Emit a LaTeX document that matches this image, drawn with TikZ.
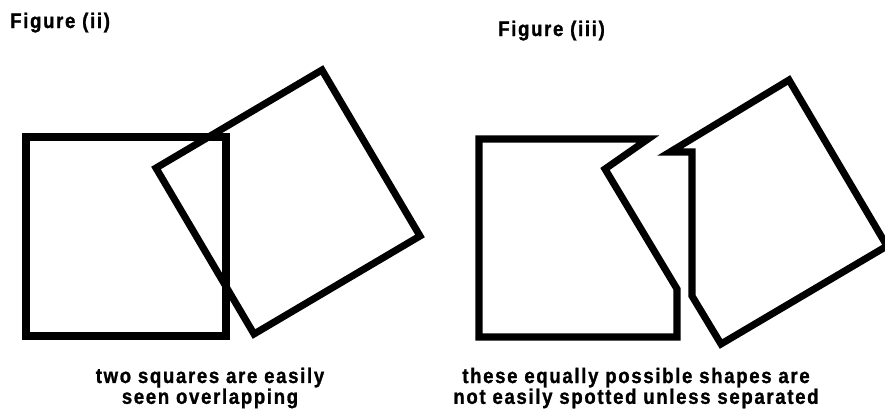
\documentclass[tikz,border=0pt]{standalone}
\usepackage{fontspec}
\setmainfont{Liberation Sans}
\newfontfamily\figfont[LetterSpace=8, FakeStretch=0.88, FakeBold=1.2]{Liberation Sans}
\usetikzlibrary{calc}
\tikzset{
  outline/.style={draw=black, line width=6pt, line join=miter},
  figtitle/.style={font=\figfont\bfseries\fontsize{18}{15}\selectfont, anchor=base west, inner sep=0pt},
  caption/.style={font=\figfont\bfseries\fontsize{18}{15}\selectfont, align=center, inner sep=0pt},
}

\begin{document}
\begin{tikzpicture}[x=0.03cm, y=-0.03cm]
\useasboundingbox (0,0) rectangle (885,412);

% Figure (ii): plain square and tilted square
\coordinate (sqa) at (26,137);
\coordinate (sqb) at (226,336);
\draw[outline] (sqa) rectangle (sqb);
\coordinate (tl) at (156,168);
\coordinate (tt) at (322,70);
\coordinate (tr) at (420,236);
\coordinate (tb) at (254,334);
\draw[outline] (tl) -- (tt) -- (tr) -- (tb) -- cycle;

% Figure (iii): the two cut shapes
\draw[outline] (479,139) -- (648,139) -- (605,169) -- (677,289)
  -- (677,337) -- (479,337) -- cycle;
\draw[outline] (670,152) -- (692,152) -- (692,296) -- (721,344)
  -- (887,246) -- (789,80) -- cycle;

% titles and captions
\node[figtitle] (titleii) at (10,28) {Figure (ii)};
\node[figtitle] (titleiii) at (498,36) {Figure (iii)};
\node[caption] (capii) at (210,388) {two squares are easily\\seen overlapping};
\node[caption] (capiii) at (636,388) {these equally possible shapes are\\not easily spotted unless separated};
\end{tikzpicture}
\end{document}
